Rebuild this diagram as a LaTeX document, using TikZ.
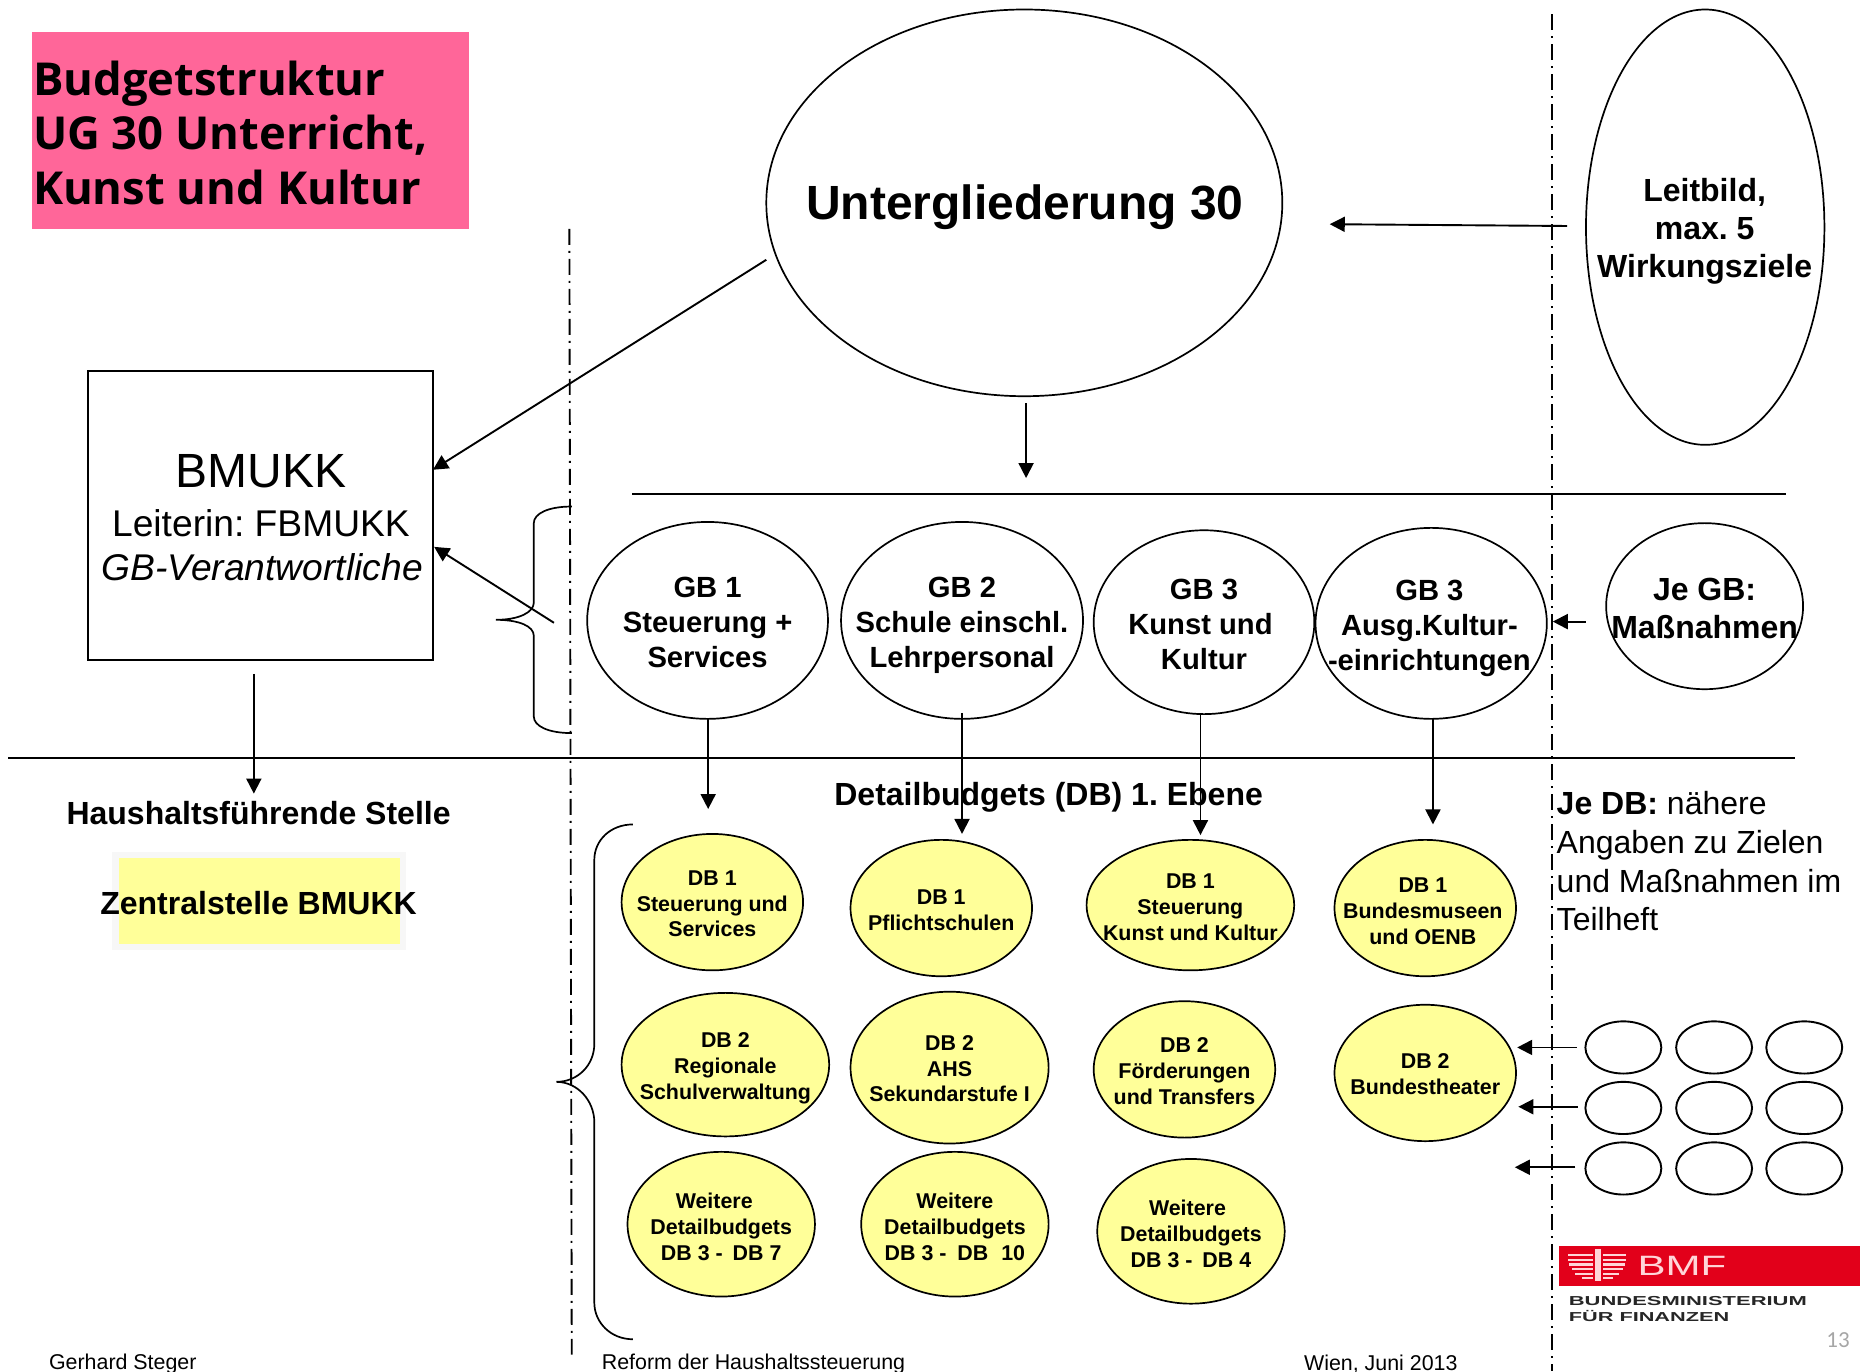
\documentclass[tikz,border=0pt]{standalone}
\usepackage{fontspec}
\setmainfont{Liberation Sans}
\newfontfamily\titlefont{Open Sans}
\newfontfamily\pagefont{Carlito}
\usetikzlibrary{shapes.geometric,arrows.meta}
\definecolor{pinkbox}{HTML}{FF6699}
\definecolor{dbyellow}{HTML}{FFFF99}
\definecolor{halo}{HTML}{F7F7F7}
\definecolor{bmfred}{HTML}{E2001A}
\definecolor{bmfpale}{HTML}{FFD5D8}
\tikzset{
  line/.style={draw=black,line width=0.95pt},
  arr/.style={line,-{Triangle[length=7.5pt,width=7.5pt]}},
  divide/.style={draw=black,line width=0.95pt,dash pattern=on 8pt off 3pt on 1pt off 3pt},
  oval/.style={ellipse,draw=black,line width=0.85pt,inner sep=0pt,outer sep=0pt},
  gbo/.style={oval,fill=white},
  dbo/.style={oval,fill=dbyellow},
  small/.style={oval,fill=white,line width=0.95pt},
  gbt/.style={align=center,inner sep=0pt,font=\bfseries\fontsize{14.6}{17.5}\selectfont},
  dbt/.style={align=center,inner sep=0pt,font=\bfseries\fontsize{10.7}{12.9}\selectfont},
  bigt/.style={align=center,inner sep=0pt,font=\bfseries\fontsize{16}{19}\selectfont},
  foot/.style={anchor=west,inner sep=0pt,font=\fontsize{10.7}{12}\selectfont},
  gbo text/.style={gbt},dbo text/.style={dbt},
}
% name, x, y, w, h, style, text x, text y, text
\newcommand{\ovalnode}[9]{%
  \node[#6,minimum width=#4*0.5931pt,minimum height=#5*0.5931pt] (#1) at (#2,#3) {};
  \node[#6 text] (#1-t) at (#7,#8) {#9};}
\begin{document}
\frenchspacing
\begin{tikzpicture}[x=0.5931pt,y=-0.5931pt]
\useasboundingbox (0,0) rectangle (1568,1156);
% title
\node[fill=pinkbox,minimum width=368*0.5931pt,minimum height=166*0.5931pt,inner sep=0pt] (title) at (211,110) {};
\node[anchor=west,align=left,inner sep=0pt,font=\titlefont\bfseries\fontsize{22.7}{27.3}\selectfont] (titlet) at (27.5,112) {Budgetstruktur\\UG 30 Unterricht,\\Kunst und Kultur};
% big ovals
\node[oval,minimum width=435*0.5931pt,minimum height=326*0.5931pt] (ug) at (863.5,171) {};
\node[inner sep=0pt,font=\bfseries\fontsize{24}{28}\selectfont] (ugt) at (864,175) {Untergliederung 30};
\node[oval,minimum width=201*0.5931pt,minimum height=367*0.5931pt] (leit) at (1437.5,191.5) {};
\node[bigt] (leitt) at (1437,195) {Leitbild,\\max. 5\hspace*{4.7pt}\\Wirkungsziele};
% BMUKK
\node[draw=black,line width=0.95pt,minimum width=291*0.5931pt,minimum height=243*0.5931pt,inner sep=0pt] (bm) at (219.5,434.5) {};
\node[inner sep=0pt,font=\fontsize{24}{28}\selectfont] (bm1) at (220,397.5) {BMUKK};
\node[inner sep=0pt,font=\fontsize{18.6}{22}\selectfont] (bm2) at (220,441) {Leiterin: FBMUKK};
\node[inner sep=0pt,font=\itshape\fontsize{18.6}{22}\selectfont] (bm3) at (221,478) {GB-Verantwortliche};
% GB
\ovalnode{gb1}{596.5}{523}{203}{166}{gbo}{596.5}{525}{GB 1\\Steuerung +\\Services}
\ovalnode{gb2}{811}{523}{204}{166}{gbo}{811}{527}{GB 2\\Schule einschl.\\Lehrpersonal}
\ovalnode{gb3}{1015}{524.5}{186}{155}{gbo}{1012}{526}{\hspace*{3.5pt}GB 3\\Kunst und\\\hspace*{3.5pt}Kultur}
\ovalnode{gb4}{1206.5}{525.5}{195}{161}{gbo}{1205}{529.5}{GB 3\\Ausg.Kultur-\hspace*{3pt}\\-einrichtungen}
\node[oval,fill=white,minimum width=166*0.5931pt,minimum height=140*0.5931pt] (je) at (1437,511) {};
\node[bigt] (jet) at (1437,513) {Je GB:\\Maßnahmen};
% rules
\coordinate (r1a) at (533,416.5); \coordinate (r1b) at (1506,416.5);
\coordinate (r2a) at (7,639); \coordinate (r2b) at (1513,639);
\draw[line] (r1a) -- (r1b);
\draw[line] (r2a) -- (r2b);
% left labels
\node[inner sep=0pt,font=\bfseries\fontsize{16}{19}\selectfont] (hs) at (218,685) {Haushaltsführende Stelle};
\node[fill=halo,minimum width=248*0.5931pt,minimum height=82*0.5931pt,inner sep=0pt] (zhalo) at (218.5,759.5) {};
\node[fill=dbyellow,minimum width=237*0.5931pt,minimum height=72.5*0.5931pt,inner sep=0pt] (zbox) at (218.5,759.5) {};
\node[inner sep=0pt,font=\bfseries\fontsize{16}{19}\selectfont] (zt) at (218,761) {Zentralstelle BMUKK};
\node[inner sep=0pt,font=\bfseries\fontsize{16}{19}\selectfont] (dbh) at (884,672) {Detailbudgets (DB) 1. Ebene};
% DB
\ovalnode{d11}{600.5}{760.5}{153}{115}{dbo}{600.5}{762}{DB 1\\Steuerung und\\Services}
\ovalnode{d12}{793.5}{765.5}{153}{115}{dbo}{793.5}{767}{DB 1\\Pflichtschulen}
\ovalnode{d13}{1003.5}{763}{175}{110}{dbo}{1003.5}{765}{DB 1\\Steuerung\hspace*{2.4pt}\\Kunst und Kultur}
\ovalnode{d14}{1201.5}{765.5}{153}{115}{dbo}{1199.5}{768}{DB 1\\Bundesmuseen\\und OENB}
\ovalnode{d21}{611.5}{897.5}{175}{121}{dbo}{611.5}{900.5}{DB 2\\Regionale\hspace*{3.5pt}\\Schulverwaltung}
\ovalnode{d22}{800.5}{900}{167}{128}{dbo}{800.5}{901}{DB 2\\AHS\hspace*{2.4pt}\\Sekundarstufe I}
\ovalnode{d23}{998.5}{901.5}{153}{115}{dbo}{998.5}{903}{DB 2\\Förderungen\\und Transfers}
\ovalnode{d24}{1201.5}{904.5}{153}{115}{dbo}{1201.5}{905.5}{DB 2\\Bundestheater}
\ovalnode{d31}{608}{1032}{158}{122}{dbo}{608}{1034}{Weitere\hspace*{7pt}\\Detailbudgets\\DB 3 -\hspace{2pt} DB 7}
\ovalnode{d32}{805}{1032}{158}{122}{dbo}{805}{1034}{Weitere\\Detailbudgets\\DB 3 -\hspace{2.5pt} DB\hspace{3.5pt} 10}
\ovalnode{d33}{1004}{1038}{158}{122}{dbo}{1004}{1040}{Weitere\hspace*{3.5pt}\\Detailbudgets\\DB 3 -\hspace{2pt} DB 4}
% right text
\node[anchor=north west,align=left,inner sep=0pt,font=\fontsize{16}{19.3}\selectfont] (jedb) at (1312,667) {\textbf{Je DB:} nähere\\Angaben zu Zielen\\und Maßnahmen im\\Teilheft};
% small ovals
\foreach \r/\yy in {1/883,2/934,3/985}{
  \foreach \c/\xx in {1/1368.5,2/1445,3/1521}{
    \node[small,minimum width=64*0.5931pt,minimum height=44*0.5931pt] (s\r\c) at (\xx,\yy) {};
  }
}
% connector ends
\coordinate (a1s) at (646,219); \coordinate (a1e) at (365,396);
\coordinate (a2s) at (1321,190.5); \coordinate (a2e) at (1121,189);
\coordinate (a3s) at (865,340); \coordinate (a3e) at (865,403);
\coordinate (a4s) at (467,525); \coordinate (a4e) at (366,461);
\coordinate (a5s) at (214,568); \coordinate (a5e) at (214,669);
\coordinate (a6s) at (597,606); \coordinate (a6e) at (597,682);
\coordinate (a7s) at (811,601); \coordinate (a7e) at (811,703);
\coordinate (a8s) at (1012,602); \coordinate (a8e) at (1012,704);
\coordinate (a9s) at (1208,606); \coordinate (a9e) at (1208,695);
\coordinate (a10s) at (1337,524); \coordinate (a10e) at (1309,524);
\coordinate (a11s) at (1329,883); \coordinate (a11e) at (1279,883);
\coordinate (a12s) at (1330,933); \coordinate (a12e) at (1280,933);
\coordinate (a13s) at (1328,984); \coordinate (a13e) at (1277,984);
\foreach \i in {1,...,13}{\draw[arr] (a\i s) -- (a\i e);}
% braces
\draw[line,line width=0.85pt] (482,427) .. controls (462,427) and (450,433) .. (450,441) -- (450,508) .. controls (450,516) and (438,522.5) .. (418,522.5) .. controls (438,522.5) and (450,528) .. (450,536) -- (450,604) .. controls (450,612) and (462,618) .. (482,618);
\draw[line,line width=0.85pt] (533.5,695) .. controls (515,695) and (501,708) .. (501,725) -- (501,880) .. controls (501,898) and (487,912) .. (469,912) .. controls (487,912) and (501,928) .. (501,946) -- (501,1098) .. controls (501,1115) and (515,1129) .. (533.5,1129);
% dash-dot dividers
\coordinate (v1a) at (480,193); \coordinate (v1b) at (482,1142);
\coordinate (v2a) at (1308.5,12); \coordinate (v2b) at (1308.5,1156);
\draw[divide] (v1a) -- (v1b);
\draw[divide] (v2a) -- (v2b);
% footer
\node[foot] (f1) at (41,1150) {Gerhard Steger};
\node[foot] (f2) at (507,1150) {Reform der Haushaltssteuerung};
\node[foot] (f3) at (1099,1150) {Wien, Juni 2013};
\node[inner sep=0pt,text=black!35,font=\pagefont\fontsize{11.5}{13}\selectfont] (pg) at (1549.5,1130) {13};
% logo
\fill[bmfred] (1314,1050.5) rectangle (1568,1084);
\foreach \yy/\ll/\rr in {1057/1322/1371,1061/1322/1371,1065/1323/1370,1069/1325/1368,1073/1328/1365}{
  \fill[bmfpale] (\ll,\yy) rectangle (1343,\yy+2);
  \fill[bmfpale] (1351,\yy) rectangle (\rr,\yy+2);
}
\fill[bmfpale] (1344.5,1053) rectangle (1349.5,1080);
\fill[bmfpale] (1334,1076.5) rectangle (1343,1078);
\fill[bmfpale] (1351,1076.5) rectangle (1360,1078);
\node[anchor=west,inner sep=0pt,text=bmfpale,xscale=1.5,font=\fontsize{14}{16}\selectfont] (bmf) at (1380,1067) {BMF};
\node[anchor=west,inner sep=0pt,text=black!85,xscale=1.69,font=\bfseries\fontsize{6.5}{8}\selectfont] (l1) at (1322,1097) {BUNDESMINISTERIUM};
\node[anchor=west,inner sep=0pt,text=black!85,xscale=1.67,font=\bfseries\fontsize{6.5}{8}\selectfont] (l2) at (1322,1109) {FÜR FINANZEN};
\end{tikzpicture}
\end{document}
